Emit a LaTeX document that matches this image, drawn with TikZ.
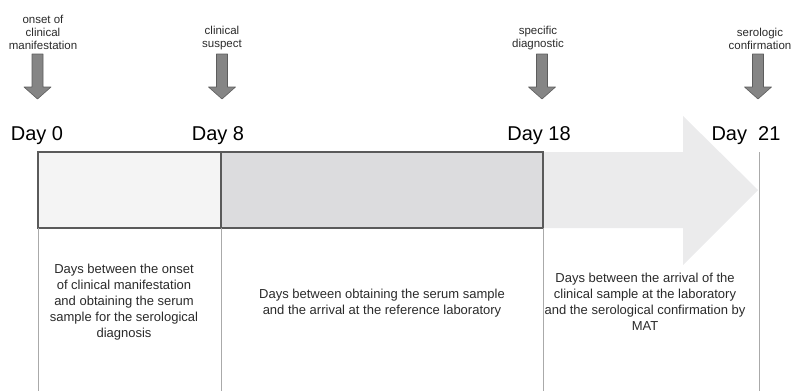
\documentclass[tikz,border=0pt]{standalone}
\usepackage{fontspec}
\setmainfont{Liberation Sans}
\definecolor{arrowfill}{HTML}{EBEBEC}
\definecolor{boxA}{HTML}{F4F4F4}
\definecolor{boxB}{HTML}{DCDCDE}
\definecolor{boxline}{HTML}{5A5A5A}
\definecolor{vline}{HTML}{AAAAAA}
\definecolor{smallarrow}{HTML}{858585}
\definecolor{txt}{HTML}{2A2A2A}
\begin{document}
\begin{tikzpicture}[x=1pt,y=-1pt,
  daylabel/.style={font=\fontsize{20}{22}\selectfont, text=black, inner sep=0pt},
  eventlabel/.style={font=\fontsize{11.5}{13}\selectfont, text=txt, align=center, inner sep=0pt},
  desc/.style={font=\fontsize{13}{16}\selectfont, text=txt, align=center, inner sep=0pt},
  period/.style={draw=boxline, line width=2pt, minimum height=76pt, inner sep=0pt},
  guide/.style={draw=vline, line width=0.9pt},
  marker/.style={fill=smallarrow, draw=smallarrow!70!black, line width=0.6pt, line join=round}
]
\useasboundingbox (0,0) rectangle (792,391);
% big timeline arrow
\fill[arrowfill] (38,152) -- (683,152) -- (683,116) -- (758,190) -- (683,265) -- (683,228) -- (38,228) -- cycle;
% period boxes
\node[period, fill=boxA, minimum width=183pt] (p1) at (129.5,190) {};
\node[period, fill=boxB, minimum width=322pt] (p2) at (382,190) {};
% guide lines
\coordinate (g0t) at (38,228); \coordinate (g0b) at (38,391);
\coordinate (g8t) at (221,228); \coordinate (g8b) at (221,391);
\coordinate (g18t) at (543,228); \coordinate (g18b) at (543,391);
\coordinate (g21t) at (759,152); \coordinate (g21b) at (759,391);
\draw[guide] (g0t) -- (g0b);
\draw[guide] (g8t) -- (g8b);
\draw[guide] (g18t) -- (g18b);
\draw[guide] (g21t) -- (g21b);
% day labels
\node[daylabel] (d0) at (37,136) {Day 0};
\node[daylabel] (d8) at (218,136) {Day 8};
\node[daylabel] (d18) at (539,136) {Day 18};
\node[daylabel] (d21) at (746,136) {Day\ \ 21};
% event markers
\foreach \cx/\nm in {37.5/m0, 222/m8, 542/m18, 758/m21}{
  \path[marker] (\cx-5.5,54) -- (\cx+5.5,54) -- (\cx+5.5,87) -- (\cx+13.5,87) -- (\cx,99) -- (\cx-13.5,87) -- (\cx-5.5,87) -- cycle;
}
% event labels
\node[eventlabel, anchor=south] (e0) at (43,50) {onset of\\clinical\\manifestation};
\node[eventlabel, anchor=south] (e8) at (222,50) {clinical\\suspect};
\node[eventlabel, anchor=south] (e18) at (538,50) {specific\\diagnostic};
\node[eventlabel, anchor=south] (e21) at (760,50) {serologic\\confirmation};
% descriptions
\node[desc] (t1) at (124,302) {Days between the onset\\of clinical manifestation\\and obtaining the serum\\sample for the serological\\diagnosis};
\node[desc] (t2) at (382,303) {Days between obtaining the serum sample\\and the arrival at the reference laboratory};
\node[desc] (t3) at (645,302) {Days between the arrival of the\\clinical sample at the laboratory\\and the serological confirmation by\\MAT};
\end{tikzpicture}
\end{document}
